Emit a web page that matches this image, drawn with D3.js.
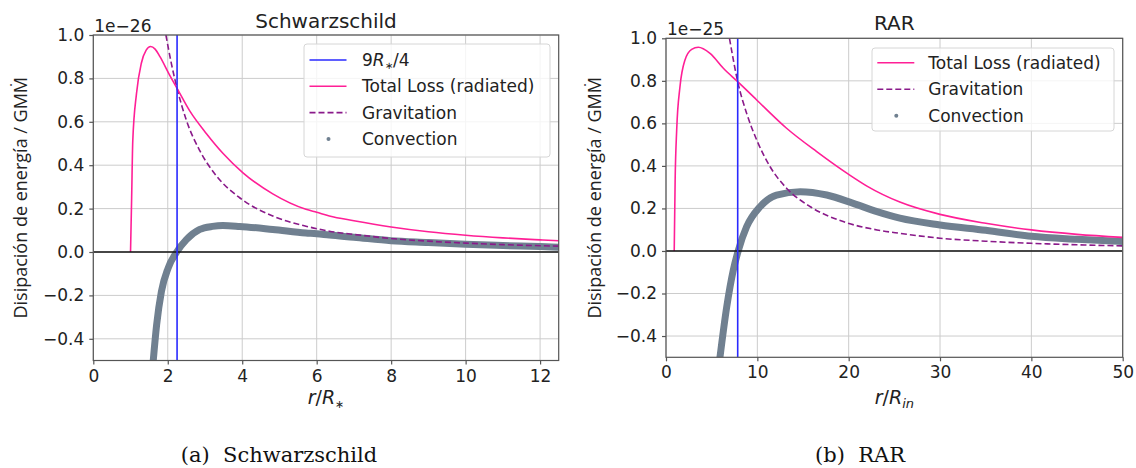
<!DOCTYPE html>
<html>
<head>
<meta charset="utf-8">
<script src="https://cdn.jsdelivr.net/npm/d3@7"></script>
<style>
  body { margin: 0; background: #fff; }
  svg { display: block; }
</style>
</head>
<body>
<div id="chart"></div>
<script>
// ---- values ----

// (a) Schwarzschild, energy in units of 1e-26
const schwTotalR = [1.00, 1.03, 1.06, 1.16, 1.29, 1.42, 1.54, 1.66, 1.79, 2.05, 2.25, 2.59, 3.04, 3.48, 4.02, 4.82, 5.71, 6.0, 6.34, 7, 8, 9, 10, 11, 12, 12.5];
const schwTotalE = [0, 0.25, 0.51, 0.73, 0.87, 0.93, 0.947, 0.935, 0.90, 0.815, 0.754, 0.65, 0.545, 0.455, 0.365, 0.268, 0.197, 0.183, 0.166, 0.144, 0.115, 0.093, 0.077, 0.065, 0.056, 0.052];

const schwGravR = [1.95, 2.10, 2.25, 2.50, 2.86, 3.30, 3.93, 4.82, 5.71, 6.34, 7.2, 8, 9, 10, 11, 12.5];
const schwGravE = [1.0, 0.866, 0.754, 0.607, 0.467, 0.352, 0.25, 0.166, 0.119, 0.096, 0.077, 0.062, 0.05, 0.041, 0.034, 0.027];

const schwConvR = [1.60, 1.70, 1.83, 2.01, 2.24, 2.50, 2.86, 3.20, 3.48, 3.93, 4.82, 5.71, 6.0, 6.34, 7, 8, 9, 10, 11, 12, 12.5];
const schwConvE = [-0.52, -0.337, -0.182, -0.074, 0, 0.057, 0.104, 0.118, 0.122, 0.118, 0.104, 0.088, 0.084, 0.078, 0.068, 0.052, 0.044, 0.036, 0.030, 0.025, 0.022];

const schwMarker = 2.25; // 9R*/4

// (b) RAR, energy in units of 1e-25
const rarTotalR = [0.9, 1.0, 1.17, 1.53, 2.08, 2.81, 3.54, 4.82, 6.28, 7.85, 9.93, 13.2, 16.5, 20, 22, 25.6, 30, 35, 40, 45, 50];
const rarTotalE = [0, 0.33, 0.569, 0.772, 0.898, 0.948, 0.958, 0.929, 0.859, 0.796, 0.71, 0.577, 0.467, 0.36, 0.305, 0.23, 0.172, 0.13, 0.099, 0.078, 0.064];

const rarGravR = [6.95, 7.85, 8.83, 9.93, 11.4, 13.2, 15.8, 19.4, 23.1, 25.6, 30, 35, 40, 45, 50];
const rarGravE = [1.0, 0.796, 0.647, 0.522, 0.396, 0.295, 0.208, 0.138, 0.099, 0.083, 0.06, 0.046, 0.036, 0.029, 0.024];

const rarConvR = [5.85, 6.65, 7.37, 7.9, 8.83, 10.3, 12.1, 14.7, 17.6, 20.5, 23.1, 25.6, 30, 35, 40, 45, 50];
const rarConvE = [-0.52, -0.262, -0.089, 0, 0.114, 0.208, 0.263, 0.279, 0.263, 0.224, 0.185, 0.154, 0.122, 0.097, 0.069, 0.055, 0.044];

const rarMarker = 7.85;

// tick labels
const yTicks = [-0.4, -0.2, 0.0, 0.2, 0.4, 0.6, 0.8, 1.0];
const schwXTicks = [0, 2, 4, 6, 8, 10, 12];
const rarXTicks = [0, 10, 20, 30, 40, 50];

// legend entries
const schwLegend = ['marker', 'total', 'grav', 'conv'];
const rarLegend = ['total', 'grav', 'conv'];

// ---- styling ----
const W = 1136, H = 468;
const sans = 'DejaVu Sans, sans-serif';
const colors = { marker: '#2a2aff', total: '#ff1f96', grav: '#8a1a8a', conv: '#708090' };

const svg = d3.select('#chart')
  .append('svg')
  .attr('width', W)
  .attr('height', H);

function zip(xs, ys) {
  return xs.map((d, i) => [d, ys[i]]);
}

drawPanel({
  id: 'schw',
  left: 93.3, right: 558.7, top: 35, bottom: 360.5,
  xDomain: [0, 12.5], xTicks: schwXTicks,
  title: 'Schwarzschild', titleY: 28,
  offset: '1e\u221226',
  total: zip(schwTotalR, schwTotalE),
  grav: zip(schwGravR, schwGravE),
  conv: zip(schwConvR, schwConvE),
  marker: schwMarker,
  legend: schwLegend,
  legendBox: { x: 304, y: 44, w: 246, h: 113, rowY: 60, step: 26.3, handleX: 309.5, textX: 362 },
  xLabelSub: '\u2217', subItalic: false,
  ylabelX: 21,
  caption: '(a)\u00a0 Schwarzschild', captionX: 279
});

drawPanel({
  id: 'rar',
  left: 666, right: 1122.7, top: 38.3, bottom: 357.3,
  xDomain: [0, 50], xTicks: rarXTicks,
  title: 'RAR', titleY: 30,
  offset: '1e\u221225',
  total: zip(rarTotalR, rarTotalE),
  grav: zip(rarGravR, rarGravE),
  conv: zip(rarConvR, rarConvE),
  marker: rarMarker,
  legend: rarLegend,
  legendBox: { x: 872, y: 48, w: 242, h: 83, rowY: 62.7, step: 26.5, handleX: 877.3, textX: 928.3 },
  xLabelSub: 'in', subItalic: true,
  ylabelX: 595,
  caption: '(b)\u00a0 RAR', captionX: 860
});

function drawPanel(p) {
  const x = d3.scaleLinear().domain(p.xDomain).range([p.left, p.right]);
  const y = d3.scaleLinear().domain([-0.5, 1.0]).range([p.bottom, p.top]);
  const g = svg.append('g');

  // clip region = axes box
  g.append('clipPath').attr('id', 'clip-' + p.id)
    .append('rect')
    .attr('x', p.left).attr('y', p.top)
    .attr('width', p.right - p.left).attr('height', p.bottom - p.top);

  // grid
  g.append('g').selectAll('line').data(p.xTicks).join('line')
    .attr('x1', d => x(d)).attr('x2', d => x(d))
    .attr('y1', p.top).attr('y2', p.bottom)
    .attr('stroke', '#cccccc').attr('stroke-width', 1);
  g.append('g').selectAll('line').data(yTicks).join('line')
    .attr('x1', p.left).attr('x2', p.right)
    .attr('y1', d => y(d)).attr('y2', d => y(d))
    .attr('stroke', '#cccccc').attr('stroke-width', 1);

  const plot = g.append('g').attr('clip-path', 'url(#clip-' + p.id + ')');
  const line = d3.line().x(d => x(d[0])).y(d => y(d[1])).curve(d3.curveMonotoneX);

  // convection (scatter drawn as a dense thick band)
  plot.append('path').datum(p.conv)
    .attr('d', line).attr('fill', 'none')
    .attr('stroke', colors.conv).attr('stroke-width', 7)
    .attr('stroke-linecap', 'round').attr('stroke-linejoin', 'round');

  // gravitation
  plot.append('path').datum(p.grav)
    .attr('d', line).attr('fill', 'none')
    .attr('stroke', colors.grav).attr('stroke-width', 1.6)
    .attr('stroke-dasharray', '6,3');

  // total loss
  plot.append('path').datum(p.total)
    .attr('d', line).attr('fill', 'none')
    .attr('stroke', colors.total).attr('stroke-width', 1.6);

  // zero line
  plot.append('line')
    .attr('x1', p.left).attr('x2', p.right)
    .attr('y1', y(0)).attr('y2', y(0))
    .attr('stroke', '#111').attr('stroke-width', 1.6);

  // vertical marker
  plot.append('line')
    .attr('x1', x(p.marker)).attr('x2', x(p.marker))
    .attr('y1', p.top).attr('y2', p.bottom)
    .attr('stroke', colors.marker).attr('stroke-width', 1.6);

  // axes
  const xAxis = d3.axisBottom(x).tickValues(p.xTicks).tickSize(4).tickPadding(5).tickFormat(d3.format('d'));
  const yAxis = d3.axisLeft(y).tickValues(yTicks).tickSize(4).tickPadding(5).tickFormat(d3.format('.1f'));

  g.append('g')
    .attr('transform', 'translate(0,' + p.bottom + ')')
    .call(xAxis)
    .call(styleAxis);
  g.append('g')
    .attr('transform', 'translate(' + p.left + ',0)')
    .call(yAxis)
    .call(styleAxis);

  // spines
  g.append('rect')
    .attr('x', p.left).attr('y', p.top)
    .attr('width', p.right - p.left).attr('height', p.bottom - p.top)
    .attr('fill', 'none').attr('stroke', '#555').attr('stroke-width', 1.2);

  // title + offset text
  g.append('text')
    .attr('x', (p.left + p.right) / 2).attr('y', p.titleY)
    .attr('text-anchor', 'middle')
    .style('font-family', sans).style('font-size', '20px').attr('fill', '#222')
    .text(p.title);
  g.append('text')
    .attr('x', p.left + 1).attr('y', p.top - 3.5)
    .style('font-family', sans).style('font-size', '17px').attr('fill', '#222')
    .text(p.offset);

  // y label
  g.append('text')
    .attr('transform', 'translate(' + p.ylabelX + ',' + ((p.top + p.bottom) / 2) + ') rotate(-90)')
    .attr('text-anchor', 'middle').attr('dy', '0.35em')
    .style('font-family', 'Open Sans, sans-serif').style('font-size', '18px').attr('fill', '#222')
    .text('Disipación de energía / GM\u1E40');

  // x label r/R_sub
  const xl = g.append('text')
    .attr('x', (p.left + p.right) / 2).attr('y', 404)
    .attr('text-anchor', 'middle')
    .style('font-family', sans).style('font-size', '19px').attr('fill', '#222');
  xl.append('tspan').style('font-style', 'italic').text('r');
  xl.append('tspan').text('/');
  xl.append('tspan').style('font-style', 'italic').text('R');
  xl.append('tspan').attr('dy', 4).style('font-size', p.subItalic ? '13px' : '11px')
    .style('font-style', p.subItalic ? 'italic' : 'normal').text(p.xLabelSub);

  // legend
  const lb = p.legendBox;
  const lg = g.append('g');
  lg.append('rect')
    .attr('x', lb.x).attr('y', lb.y).attr('width', lb.w).attr('height', lb.h)
    .attr('rx', 3).attr('fill', '#fff').attr('fill-opacity', 0.8)
    .attr('stroke', '#d6d6d6');
  const rows = lg.selectAll('g').data(p.legend).join('g')
    .attr('transform', (d, i) => 'translate(0,' + (lb.rowY + i * lb.step) + ')');
  rows.filter(d => d !== 'conv').append('line')
    .attr('x1', lb.handleX).attr('x2', lb.handleX + 37)
    .attr('stroke', d => colors[d]).attr('stroke-width', 1.6)
    .attr('stroke-dasharray', d => d === 'grav' ? '6,3' : null);
  rows.filter(d => d === 'conv').append('circle')
    .attr('cx', lb.handleX + 19).attr('r', 2).attr('fill', colors.conv);
  rows.each(function(d) {
    const t = d3.select(this).append('text')
      .attr('x', lb.textX).attr('dy', '0.36em')
      .style('font-family', sans).style('font-size', '17px').attr('fill', '#222');
    if (d === 'marker') {
      t.append('tspan').text('9');
      t.append('tspan').style('font-style', 'italic').text('R');
      t.append('tspan').attr('dy', 3).style('font-size', '10px').text('\u2217');
      t.append('tspan').attr('dy', -3).text('/4');
    } else {
      t.text({ total: 'Total Loss (radiated)', grav: 'Gravitation', conv: 'Convection' }[d]);
    }
  });

  // caption under the panel
  svg.append('text')
    .attr('x', p.captionX).attr('y', 462)
    .attr('text-anchor', 'middle')
    .style('font-family', 'DejaVu Serif, serif').style('font-size', '21px').attr('fill', '#111')
    .text(p.caption);
}

function styleAxis(sel) {
  sel.select('.domain').remove();
  sel.selectAll('.tick line').attr('stroke', '#555').attr('stroke-width', 1.2);
  sel.selectAll('.tick text')
    .attr('fill', '#222')
    .style('font-family', sans)
    .style('font-size', '17px');
}
</script>
</body>
</html>
